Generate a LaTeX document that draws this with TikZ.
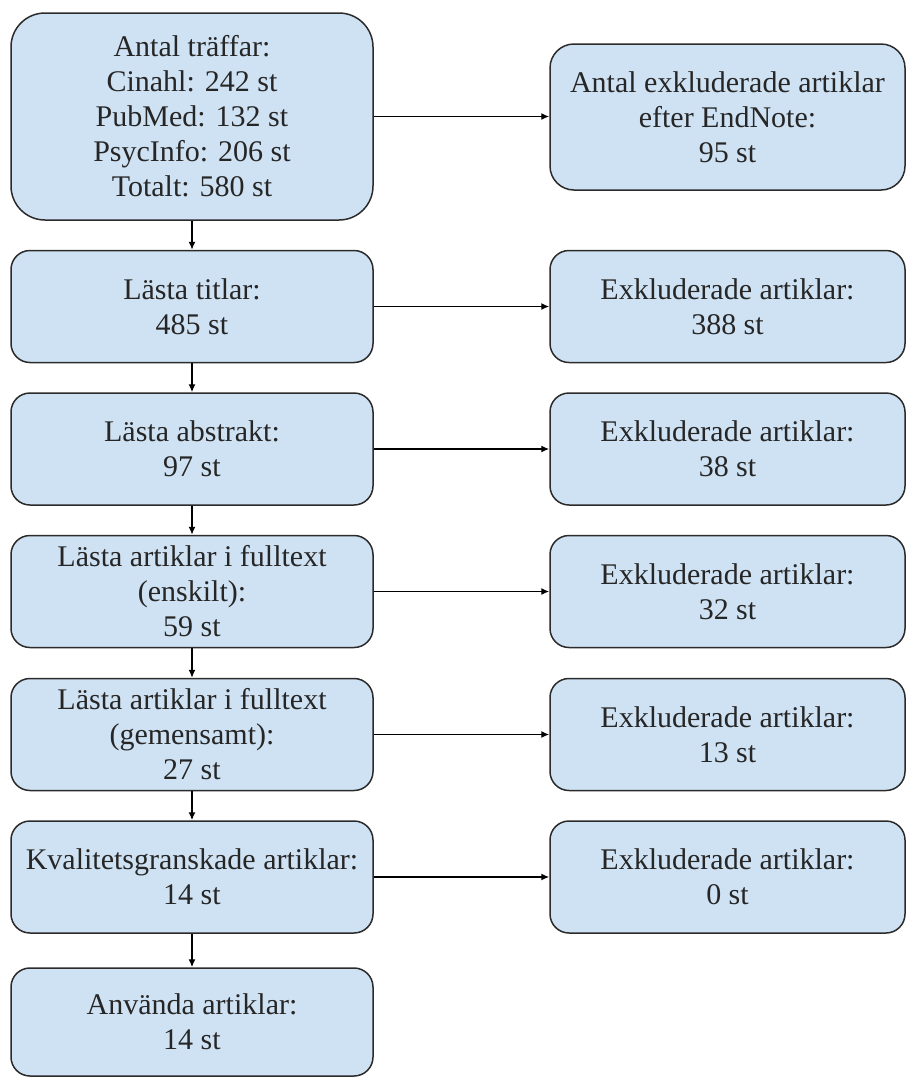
\documentclass[tikz,border=0pt]{standalone}
\usepackage{fontspec}
\setmainfont{Liberation Serif}
\usetikzlibrary{arrows.meta}
\definecolor{boxblue}{HTML}{CFE2F3}
\definecolor{edgegray}{HTML}{2B2B2B}
\begin{document}
\begin{tikzpicture}[x=0.5pt, y=-0.5pt,
    flowbox/.style={rectangle, rounded corners=9.5pt, draw=edgegray, line width=0.75pt, fill=boxblue, text=black!85, font=\fontsize{15}{17.5}\selectfont, align=center, inner sep=0pt, minimum width=181pt, minimum height=56pt},
    exbox/.style={flowbox, minimum width=177.5pt},
    link/.style={-{Latex[length=4pt,width=3.5pt]}, line width=0.7pt, draw=black}
]
\useasboundingbox (0,0) rectangle (907,1077);

% Left column
\node[flowbox, minimum height=103.5pt, rounded corners=17pt] (hits) at (192,116.5) {Antal träffar:\\Cinahl: 242 st\\PubMed: 132 st\\PsycInfo: 206 st\\Totalt: 580 st};
\node[flowbox] (titles) at (192,306.5) {Lästa titlar:\\485 st};
\node[flowbox] (abstracts) at (192,449) {Lästa abstrakt:\\97 st};
\node[flowbox] (fulltextone) at (192,591.5) {Lästa artiklar i fulltext\\(enskilt):\\59 st};
\node[flowbox] (fulltexttwo) at (192,734.5) {Lästa artiklar i fulltext\\(gemensamt):\\27 st};
\node[flowbox] (quality) at (192,877) {Kvalitetsgranskade artiklar:\\14 st};
\node[flowbox, minimum height=54pt] (used) at (192,1022) {Använda artiklar:\\14 st};

% Right column
\node[exbox, minimum height=73pt, rounded corners=12pt] (endnote) at (727.5,117) {Antal exkluderade artiklar\\efter EndNote:\\95 st};
\node[exbox] (extitles) at (727.5,306.5) {Exkluderade artiklar:\\388 st};
\node[exbox] (exabstracts) at (727.5,449) {Exkluderade artiklar:\\38 st};
\node[exbox] (exfulltextone) at (727.5,591.5) {Exkluderade artiklar:\\32 st};
\node[exbox] (exfulltexttwo) at (727.5,734.5) {Exkluderade artiklar:\\13 st};
\node[exbox] (exquality) at (727.5,877) {Exkluderade artiklar:\\0 st};

% Connections
\draw[link] (hits) -- (titles);
\draw[link] (titles) -- (abstracts);
\draw[link] (abstracts) -- (fulltextone);
\draw[link] (fulltextone) -- (fulltexttwo);
\draw[link] (fulltexttwo) -- (quality);
\draw[link] (quality) -- (used);

\draw[link] (hits.east) -- (endnote.west |- hits.east);
\draw[link] (titles) -- (extitles);
\draw[link] (abstracts) -- (exabstracts);
\draw[link] (fulltextone) -- (exfulltextone);
\draw[link] (fulltexttwo) -- (exfulltexttwo);
\draw[link] (quality) -- (exquality);

\end{tikzpicture}
\end{document}
